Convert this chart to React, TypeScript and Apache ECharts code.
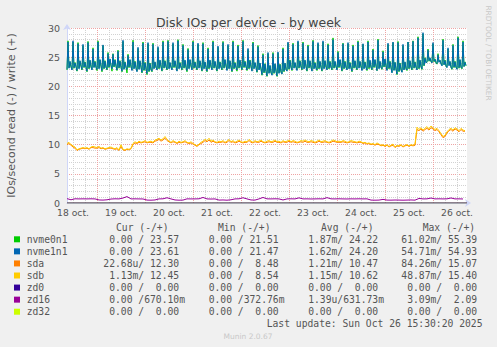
import React, { useEffect, useRef } from 'react';
import * as echarts from 'echarts';

// ---------- axis / label data ----------
const dayLabels = ['18 oct.', '19 oct.', '20 oct.', '21 oct.', '22 oct.', '23 oct.', '24 oct.', '25 oct.', '26 oct.'];
const firstHour = 9;   // hours since 18 oct 00:00 at the left edge
const lastHour = 209;  // right edge

// ---------- series values ----------
// nvme devices: 30-minute samples starting at hour 9
const nvmeStart = 9;
const nvmeStep = 0.5;
const nvme0n1 = [
  22.8, 27.8, 23.2, 24.2, 23.3, 22.9, 27.6, 23.1, 24.1, 23.4, 22.6, 27.5, 23.1, 24.3, 23.4, 22.8, 27.0, 23.2, 24.2, 23.3,
  22.5, 27.7, 23.0, 24.4, 23.3, 22.9, 26.6, 23.3, 24.3, 23.2, 22.7, 27.8, 23.1, 24.5, 23.4, 22.5, 27.0, 23.0, 24.4, 23.3,
  22.8, 25.8, 23.2, 24.6, 23.5, 22.6, 25.6, 23.3, 24.6, 23.4, 22.7, 26.2, 23.1, 24.4, 23.2, 22.5, 27.7, 23.0, 24.2, 23.3,
  22.3, 25.5, 23.2, 24.5, 23.3, 22.8, 27.9, 23.1, 24.3, 23.2, 22.6, 26.5, 23.0, 24.3, 23.3, 22.3, 27.6, 22.7, 24.1, 23.1,
  22.0, 27.3, 22.5, 24.0, 22.8, 22.5, 27.4, 23.1, 24.1, 23.2, 22.9, 26.6, 23.0, 24.4, 23.3, 22.6, 27.8, 23.1, 24.4, 23.4,
  22.8, 27.9, 23.1, 24.0, 23.3, 22.9, 27.3, 23.2, 24.3, 23.3, 22.7, 28.0, 23.1, 24.1, 23.3, 22.8, 27.2, 23.1, 24.4, 23.2,
  22.5, 26.5, 23.1, 24.5, 23.4, 22.9, 27.8, 23.1, 24.2, 23.2, 22.8, 27.2, 23.2, 24.3, 23.3, 22.6, 27.5, 23.1, 24.1, 23.3,
  22.5, 26.6, 23.0, 24.4, 23.3, 22.9, 27.8, 23.1, 24.2, 23.4, 22.6, 26.7, 23.1, 24.2, 23.3, 22.8, 27.7, 23.1, 24.5, 23.4,
  22.8, 27.0, 23.1, 24.3, 23.2, 22.5, 27.8, 23.0, 24.1, 23.3, 22.6, 27.1, 23.1, 24.4, 23.3, 22.8, 27.9, 23.2, 24.3, 23.4,
  22.7, 26.3, 23.0, 24.5, 23.3, 22.7, 27.6, 23.1, 24.0, 23.3, 22.4, 27.0, 22.9, 23.9, 22.9, 21.9, 25.6, 22.3, 23.9, 22.5,
  21.7, 25.6, 22.3, 23.5, 22.3, 22.0, 25.8, 22.2, 23.8, 22.6, 21.7, 25.7, 22.3, 23.8, 22.4, 22.2, 26.6, 22.5, 23.9, 22.9,
  22.7, 27.4, 22.9, 24.5, 23.3, 22.7, 27.4, 23.2, 24.0, 23.2, 22.8, 27.6, 23.1, 24.4, 23.3, 22.8, 27.6, 23.1, 24.4, 23.4,
  22.6, 27.1, 23.1, 24.3, 23.3, 22.7, 27.9, 23.1, 24.1, 23.2, 22.7, 27.3, 23.0, 24.2, 23.2, 22.6, 27.6, 23.1, 24.3, 23.3,
  22.9, 27.3, 23.0, 24.3, 23.3, 22.8, 28.3, 23.1, 24.2, 23.3, 22.9, 26.0, 23.2, 24.5, 23.4, 22.6, 27.4, 23.0, 24.3, 23.3,
  22.9, 27.3, 23.1, 24.1, 23.2, 22.5, 27.1, 23.1, 24.3, 23.2, 22.8, 27.8, 23.2, 24.2, 23.3, 22.8, 27.2, 23.1, 24.2, 23.3,
  22.7, 27.8, 23.0, 24.3, 23.2, 22.8, 26.4, 23.2, 24.5, 23.4, 22.7, 28.1, 23.1, 24.2, 23.3, 22.9, 26.1, 23.3, 24.6, 23.4,
  22.8, 27.2, 23.0, 24.3, 23.2, 22.4, 27.5, 22.8, 24.1, 22.9, 22.0, 27.7, 22.5, 24.0, 22.8, 22.5, 27.0, 22.9, 24.1, 23.0,
  22.7, 27.6, 23.0, 24.3, 23.2, 22.8, 27.8, 23.1, 24.2, 23.3, 22.9, 28.5, 23.0, 24.4, 23.3, 22.9, 29.0, 23.5, 24.9, 24.1,
  24.1, 26.4, 24.3, 24.8, 24.2, 24.1, 27.3, 24.2, 24.7, 24.0, 23.8, 25.6, 24.2, 24.4, 23.9, 23.6, 28.1, 23.7, 24.5, 23.4,
  23.3, 26.4, 23.7, 24.2, 23.2, 22.9, 27.2, 23.2, 24.3, 23.3, 23.0, 28.5, 23.1, 24.5, 23.2, 23.0, 27.8, 23.4, 24.2, 23.5,
];
const nvme1n1 = [
  22.9, 27.6, 23.1, 24.3, 23.4, 22.8, 27.8, 23.2, 24.0, 23.3, 22.7, 27.3, 23.0, 24.4, 23.5, 22.9, 27.2, 23.3, 24.1, 23.2,
  22.6, 27.5, 23.1, 24.5, 23.4, 22.8, 26.4, 23.2, 24.2, 23.3, 22.9, 27.6, 23.0, 24.6, 23.5, 22.7, 27.1, 23.1, 24.3, 23.2,
  22.9, 25.6, 23.3, 24.7, 23.6, 23.0, 25.5, 23.4, 24.5, 23.5, 22.8, 26.0, 23.2, 24.3, 23.3, 22.6, 27.9, 22.9, 24.1, 23.2,
  22.9, 25.3, 23.3, 24.6, 23.4, 22.7, 27.6, 23.0, 24.2, 23.1, 22.5, 26.7, 22.9, 24.4, 23.2, 22.4, 27.4, 22.8, 24.0, 23.0,
  22.2, 27.5, 22.6, 23.9, 22.9, 22.6, 27.2, 23.0, 24.2, 23.3, 22.8, 26.8, 23.1, 24.5, 23.4, 22.7, 27.6, 23.2, 24.3, 23.3,
  22.9, 27.7, 23.0, 24.1, 23.2, 22.8, 27.5, 23.3, 24.4, 23.4, 22.6, 27.8, 23.0, 24.0, 23.2, 22.9, 27.0, 23.2, 24.5, 23.3,
  22.7, 26.3, 23.0, 24.6, 23.5, 22.8, 27.6, 23.2, 24.1, 23.3, 22.9, 27.4, 23.1, 24.4, 23.4, 22.7, 27.3, 23.0, 24.2, 23.2,
  22.6, 26.4, 23.1, 24.5, 23.4, 22.8, 27.6, 23.2, 24.3, 23.3, 22.7, 26.9, 23.0, 24.1, 23.2, 22.9, 27.5, 23.2, 24.6, 23.5,
  22.7, 27.2, 23.0, 24.4, 23.3, 22.6, 27.6, 23.1, 24.0, 23.2, 22.8, 26.9, 23.2, 24.5, 23.4, 22.9, 27.7, 23.3, 24.2, 23.3,
  22.8, 26.5, 23.1, 24.4, 23.4, 22.6, 27.4, 23.0, 24.1, 23.2, 22.5, 26.8, 22.8, 24.0, 23.0, 22.0, 25.4, 22.4, 23.8, 22.6,
  21.8, 25.8, 22.2, 23.6, 22.4, 21.9, 25.6, 22.3, 23.9, 22.5, 21.8, 25.9, 22.2, 23.7, 22.5, 22.1, 26.4, 22.6, 24.0, 22.9,
  22.6, 27.6, 23.0, 24.4, 23.2, 22.8, 27.2, 23.1, 24.1, 23.3, 22.7, 27.8, 23.2, 24.3, 23.4, 22.9, 27.4, 23.0, 24.5, 23.3,
  22.7, 26.9, 23.2, 24.4, 23.2, 22.6, 27.7, 23.0, 24.0, 23.1, 22.8, 27.5, 23.1, 24.3, 23.3, 22.7, 27.8, 23.0, 24.4, 23.4,
  22.8, 27.1, 23.1, 24.2, 23.2, 22.9, 28.0, 23.2, 24.3, 23.4, 22.8, 25.8, 23.3, 24.6, 23.5, 22.7, 27.3, 23.1, 24.2, 23.2,
  22.8, 27.5, 23.0, 24.0, 23.1, 22.6, 26.9, 23.2, 24.4, 23.3, 22.9, 27.6, 23.1, 24.3, 23.4, 22.7, 27.3, 23.0, 24.1, 23.2,
  22.8, 27.6, 23.2, 24.5, 23.3, 22.9, 26.2, 23.3, 24.6, 23.5, 22.7, 27.9, 23.0, 24.3, 23.2, 23.0, 25.9, 23.4, 24.7, 23.5,
  22.7, 27.4, 23.1, 24.2, 23.1, 22.3, 27.6, 22.7, 24.1, 23.0, 22.1, 27.5, 22.6, 23.9, 22.9, 22.4, 27.2, 22.8, 24.2, 23.1,
  22.8, 27.6, 23.1, 24.4, 23.3, 22.9, 27.7, 23.2, 24.1, 23.2, 22.8, 28.3, 23.1, 24.5, 23.4, 23.0, 29.2, 23.6, 24.8, 24.0,
  24.2, 26.2, 24.4, 24.9, 24.3, 24.0, 27.5, 24.3, 24.6, 24.1, 23.9, 25.4, 24.1, 24.5, 23.8, 23.5, 27.9, 23.7, 24.4, 23.5,
  23.2, 26.6, 23.5, 24.3, 23.3, 23.0, 27.0, 23.3, 24.2, 23.2, 22.9, 28.3, 23.2, 24.6, 23.3, 23.1, 27.6, 23.4, 24.1, 23.6,
];
// sda / sdb: hourly samples starting at hour 9
const diskStart = 9;
const diskStep = 1;
const sda = [
  10.0, 10.2, 9.9, 9.6, 9.4, 9.0, 9.2, 9.3,
  9.4, 9.3, 9.4, 9.2, 9.5, 9.5, 9.4, 9.4,
  9.5, 9.3, 9.4, 9.2, 9.3, 9.4, 9.4, 9.3,
  9.2, 9.3, 9.0, 9.7, 9.1, 9.0, 9.2, 9.1,
  9.3, 10.0, 10.3, 10.2, 10.4, 10.3, 10.4, 10.5,
  10.3, 10.4, 10.4, 10.3, 10.6, 10.7, 10.9, 10.6,
  10.8, 11.1, 10.7, 10.5, 10.3, 10.5, 10.4, 10.2,
  10.4, 10.3, 10.4, 10.5, 10.3, 10.2, 10.3, 10.1,
  9.9, 9.7, 10.0, 10.2, 10.4, 10.7, 10.5, 10.8,
  10.4, 10.6, 10.4, 10.3, 10.4, 10.4, 10.5, 10.3,
  10.4, 10.7, 10.4, 10.5, 10.3, 10.4, 10.6, 10.4,
  10.3, 10.4, 10.4, 10.7, 10.4, 10.3, 10.5, 10.4,
  10.4, 10.6, 10.4, 10.3, 10.4, 10.5, 10.4, 10.4,
  10.6, 10.4, 10.4, 10.3, 10.5, 10.4, 10.4, 10.6,
  10.4, 10.5, 10.4, 10.3, 10.4, 10.5, 10.4, 10.6,
  10.4, 10.4, 10.5, 10.4, 10.3, 10.4, 10.6, 10.4,
  10.4, 10.5, 10.4, 10.3, 10.4, 10.6, 10.5, 10.4,
  10.4, 10.4, 10.5, 10.4, 10.3, 10.4, 10.5, 10.4,
  10.4, 10.3, 10.4, 10.4, 10.2, 10.3, 10.1, 10.2,
  10.0, 10.1, 9.9, 10.1, 10.0, 9.8, 9.9, 9.7,
  9.9, 9.6, 9.8, 9.9, 9.5, 9.8, 9.7, 9.9,
  9.6, 9.8, 9.9, 9.7, 9.9, 9.8, 9.9, 12.6,
  12.4, 12.7, 12.3, 12.6, 12.8, 12.5, 12.9, 12.7,
  12.4, 12.6, 12.2, 11.7, 11.2, 11.4, 12.0, 12.4,
  12.6, 12.3, 12.7, 12.5, 12.2, 12.6, 12.3, 12.3,
];
const sdb = [
  10.2, 10.4, 10.0, 9.8, 9.6, 9.1, 9.3, 9.4,
  9.5, 9.4, 9.5, 9.3, 9.6, 9.7, 9.6, 9.5,
  9.7, 9.4, 9.5, 9.3, 9.4, 9.5, 9.6, 9.4,
  9.3, 9.5, 9.1, 10.0, 9.2, 9.1, 9.3, 9.2,
  9.4, 10.2, 10.5, 10.3, 10.6, 10.4, 10.5, 10.7,
  10.4, 10.5, 10.6, 10.4, 10.8, 10.9, 11.1, 10.8,
  11.0, 11.4, 10.9, 10.6, 10.4, 10.7, 10.5, 10.3,
  10.6, 10.4, 10.5, 10.7, 10.4, 10.3, 10.5, 10.2,
  10.0, 9.8, 10.1, 10.4, 10.6, 10.9, 10.7, 11.1,
  10.6, 10.8, 10.5, 10.4, 10.6, 10.5, 10.7, 10.4,
  10.6, 10.9, 10.5, 10.7, 10.4, 10.6, 10.8, 10.5,
  10.4, 10.6, 10.5, 10.9, 10.6, 10.4, 10.7, 10.5,
  10.6, 10.8, 10.5, 10.4, 10.6, 10.7, 10.5, 10.6,
  10.8, 10.5, 10.6, 10.4, 10.7, 10.5, 10.6, 10.8,
  10.5, 10.7, 10.6, 10.4, 10.5, 10.7, 10.6, 10.8,
  10.6, 10.5, 10.7, 10.6, 10.4, 10.6, 10.8, 10.5,
  10.6, 10.7, 10.5, 10.4, 10.6, 10.8, 10.7, 10.5,
  10.6, 10.5, 10.7, 10.6, 10.4, 10.5, 10.7, 10.6,
  10.5, 10.4, 10.6, 10.5, 10.3, 10.4, 10.2, 10.3,
  10.1, 10.2, 10.0, 10.3, 10.1, 9.9, 10.0, 9.8,
  10.0, 9.7, 9.9, 10.1, 9.6, 9.9, 9.8, 10.0,
  9.7, 9.9, 10.0, 9.8, 10.0, 9.9, 10.1, 13.0,
  12.6, 12.9, 12.5, 12.8, 13.1, 12.7, 13.2, 12.9,
  12.6, 12.8, 12.4, 11.9, 11.4, 11.6, 12.2, 12.6,
  12.8, 12.5, 12.9, 12.7, 12.4, 12.8, 12.5, 12.4,
];
// zd16: 2-hourly samples starting at hour 9
const zd16Start = 9;
const zd16Step = 2;
const zd16 = [
  0.75, 0.55, 0.72, 0.70, 0.71, 0.70, 0.72, 0.70,
  0.52, 0.50, 0.55, 0.68, 0.72, 0.70, 0.85, 1.10,
  0.70, 0.71, 0.70, 0.69, 0.50, 0.48, 0.52, 0.70,
  0.72, 0.90, 0.70, 0.52, 0.48, 0.50, 0.71, 0.70,
  0.70, 0.72, 0.95, 0.70, 0.68, 0.70, 0.50, 0.52,
  0.48, 0.55, 0.70, 0.72, 0.90, 0.70, 0.52, 0.50,
  0.70, 0.95, 0.71, 0.70, 0.72, 0.70, 0.52, 0.70,
  0.72, 0.70, 0.88, 0.70, 0.71, 0.69, 0.70, 0.72,
  0.70, 0.92, 0.71, 0.70, 0.72, 0.70, 0.69, 0.71,
  0.70, 0.72, 0.70, 0.71, 0.50, 0.48, 0.50, 0.62,
  0.50, 0.49, 0.51, 0.50, 0.48, 0.50, 0.52, 0.49,
  0.78, 0.70, 0.71, 0.85, 0.70, 0.72, 0.70, 0.71,
  0.86, 0.70, 0.71, 0.69,
];
// zd0 / zd32: daily samples, all zero
const zeroStart = 9;
const zeroStep = 25;
const zd0 = [0, 0, 0, 0, 0, 0, 0, 0, 0];
const zd32 = [0, 0, 0, 0, 0, 0, 0, 0, 0];

// ---------- legend table ----------
const legendNames = ['nvme0n1', 'nvme1n1', 'sda', 'sdb', 'zd0', 'zd16', 'zd32'];
const legendColors = ['#00CC00', '#0066B3', '#FF8000', '#FFCC00', '#330099', '#990099', '#CCFF00'];
const curVals = ['0.00 / 23.57 ', '0.00 / 23.61 ', '22.68u/ 12.30 ', '1.13m/ 12.45 ', '0.00 /  0.00 ', '0.00 /670.10m', '0.00 /  0.00 '];
const minVals = ['0.00 / 21.51 ', '0.00 / 21.47 ', '0.00 /  8.48 ', '0.00 /  8.54 ', '0.00 /  0.00 ', '0.00 /372.76m', '0.00 /  0.00 '];
const avgVals = ['1.87m/ 24.22 ', '1.62m/ 24.20 ', '1.21m/ 10.47 ', '1.15m/ 10.62 ', '0.00 /  0.00 ', '1.39u/631.73m', '0.00 /  0.00 '];
const maxVals = ['61.02m/ 55.39 ', '54.71m/ 54.93 ', '84.26m/ 15.07 ', '48.87m/ 15.40 ', '0.00 /  0.00 ', '3.09m/  2.09 ', '0.00 /  0.00 '];
const headers = ['Cur (-/+)', 'Min (-/+)', 'Avg (-/+)', 'Max (-/+)'];
const lastUpdate = 'Last update: Sun Oct 26 15:30:20 2025';

const MONO = '"DejaVu Sans Mono", monospace';
const SANS = '"DejaVu Sans", sans-serif';
const TXT = '#555555';

const pts = (vals: number[], start: number, step: number) => vals.map((v, i) => [start + i * step, v]);
const nb = (s: string) => s.replace(/ /g, '\u00A0');

function txt(text: string, x: number, y: number, opts: any = {}) {
  const align = opts.align || 'left';
  const valign = opts.valign || 'middle';
  return {
    type: 'text',
    x,
    y,
    rotation: opts.rotation || 0,
    silent: true,
    style: {
      text,
      fill: opts.fill || TXT,
      font: opts.font || `9.7px ${MONO}`,
      align,
      verticalAlign: valign,
      textAlign: align,
      textVerticalAlign: valign,
    },
  };
}

export default function App() {
  const ref = useRef<HTMLDivElement>(null);
  useEffect(() => {
    if (!ref.current) return;
    const chart = echarts.init(ref.current, null, { renderer: 'svg' });
    const gridHours = Array.from({ length: lastHour - firstHour + 1 }, (_, i) => String(firstHour + i));
    const hourOf = (i: number) => firstHour + i;

    const rowY0 = 239.3;
    const rowH = 12.07;
    const graphics: any[] = [];
    const headerX = [116, 218, 321, 422.7];
    headers.forEach((h, i) => graphics.push(txt(h, headerX[i], 227.7)));
    const colRight = [185, 284.5, 384, 483];
    const cols = [curVals, minVals, avgVals, maxVals];
    legendNames.forEach((name, r) => {
      const y = rowY0 + r * rowH;
      graphics.push({
        type: 'rect',
        silent: true,
        shape: { x: 14, y: y - 3, width: 6, height: 6 },
        style: { fill: legendColors[r] },
      });
      graphics.push(txt(name, 26.7, y));
      cols.forEach((c, ci) => graphics.push(txt(nb(c[r]), colRight[ci], y, { align: 'right' })));
    });
    graphics.push(txt(lastUpdate, 482.5, 323.3, { align: 'right' }));
    graphics.push(txt('Munin 2.0.67', 248, 336, { align: 'center', font: `7.5px ${SANS}`, fill: '#c8c8c8' }));
    graphics.push(txt('RRDTOOL / TOBI OETIKER', 488, 53, { align: 'center', font: `7.4px ${SANS}`, fill: '#c8c8c8', rotation: -Math.PI / 2 }));
    graphics.push(txt('IOs/second read (-) / write (+)', 11, 115.5, { align: 'center', font: `11px ${SANS}`, rotation: Math.PI / 2 }));

    const axisColor = '#CFD6F8';
    const minorGrid = { color: '#d2d2d2', type: 'dotted', width: 1 };
    const majorGrid = { color: '#eea3a3', type: 'dotted', width: 1 };

    const line = (name: string, data: number[][], color: string) => ({
      name,
      type: 'line',
      xAxisIndex: 0,
      yAxisIndex: 0,
      data,
      showSymbol: false,
      symbol: 'none',
      silent: true,
      lineStyle: { color, width: 1 },
      itemStyle: { color },
      emphasis: { disabled: true },
    });

    chart.setOption({
      animation: false,
      backgroundColor: '#F0F0F0',
      title: {
        text: 'Disk IOs per device - by week',
        left: 'center',
        top: 11,
        textStyle: { fontFamily: SANS, fontSize: 12.5, fontWeight: 'normal', color: '#444444' },
      },
      grid: { left: 67, right: 30, top: 28, bottom: 144, show: true, backgroundColor: '#ffffff', borderWidth: 0 },
      xAxis: [
        {
          type: 'value',
          min: firstHour,
          max: lastHour,
          position: 'bottom',
          axisLine: { show: true, lineStyle: { color: axisColor }, symbol: ['none', 'arrow'], symbolSize: [6, 6], symbolOffset: [0, 4] },
          axisTick: { show: false },
          axisLabel: { show: false },
          splitLine: { show: false },
        },
        {
          type: 'category',
          data: gridHours,
          boundaryGap: false,
          position: 'bottom',
          axisLine: { show: false },
          axisTick: { show: false },
          axisLabel: {
            interval: (i: number) => hourOf(i) % 24 === 12,
            formatter: (v: string) => dayLabels[Math.floor(Number(v) / 24)],
            color: TXT,
            fontFamily: SANS,
            fontSize: 9.2,
            margin: 5,
          },
          splitLine: {
            show: true,
            interval: (i: number) => hourOf(i) % 6 === 0 && hourOf(i) % 24 !== 0,
            lineStyle: minorGrid,
          },
        },
        {
          type: 'category',
          data: gridHours,
          boundaryGap: false,
          position: 'bottom',
          axisLine: { show: false },
          axisTick: { show: false },
          axisLabel: { show: false },
          splitLine: {
            show: true,
            interval: (i: number) => hourOf(i) % 24 === 0,
            lineStyle: majorGrid,
          },
        },
      ],
      yAxis: [
        {
          type: 'value',
          min: 0,
          max: 30,
          interval: 5,
          axisLine: { show: true, lineStyle: { color: axisColor }, symbol: ['none', 'arrow'], symbolSize: [6, 6], symbolOffset: [0, 4] },
          axisTick: { show: false },
          axisLabel: { color: TXT, fontFamily: SANS, fontSize: 9.5, margin: 7 },
          splitLine: { show: true, lineStyle: majorGrid },
          minorTick: { show: false, splitNumber: 5 },
          minorSplitLine: { show: true, lineStyle: minorGrid },
        },
      ],
      graphic: { elements: graphics },
      series: [
        line('nvme0n1', pts(nvme0n1, nvmeStart, nvmeStep), '#00CC00'),
        line('nvme1n1', pts(nvme1n1, nvmeStart, nvmeStep), '#0066B3'),
        line('sda', pts(sda, diskStart, diskStep), '#FF8000'),
        line('sdb', pts(sdb, diskStart, diskStep), '#FFCC00'),
        line('zd32', pts(zd32, zeroStart, zeroStep), '#CCFF00'),
        line('zd16', pts(zd16, zd16Start, zd16Step), '#990099'),
        line('zd0', pts(zd0, zeroStart, zeroStep), '#330099'),
      ],
    });
    return () => chart.dispose();
  }, []);
  return <div ref={ref} style={{ position: 'fixed', left: 0, top: 0, width: 497, height: 347 }} />;
}
